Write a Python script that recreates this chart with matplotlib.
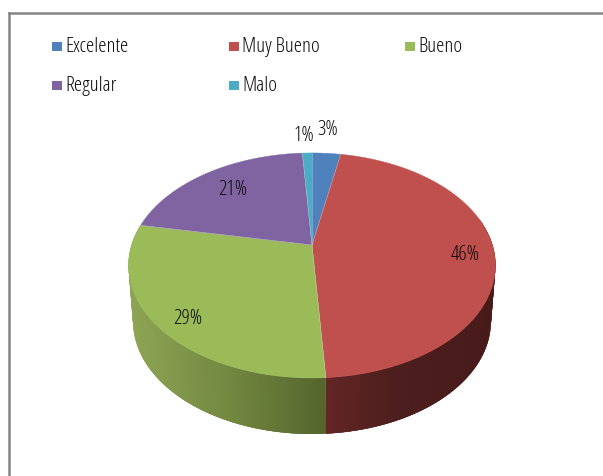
import numpy as np
import matplotlib
matplotlib.use("Agg")
import matplotlib.pyplot as plt
from matplotlib.patches import Rectangle
from matplotlib.collections import PolyCollection

categories = ["Excelente", "Muy Bueno", "Bueno", "Regular", "Malo"]
values = [3, 46, 29, 21, 1]
top_colors = ["#4F81BD", "#C0504D", "#9BBB59", "#8064A2", "#4BACC6"]

font = dict(family="Open Sans", stretch="condensed", fontsize=15)

fig = plt.figure(figsize=(6.03, 4.76), dpi=100)
ax = fig.add_axes([0, 0, 1, 1])
ax.set_xlim(0, 603)
ax.set_ylim(476, 0)
ax.axis("off")

cx, cy = 312.0, 245.0
a, b, k = 180.4, 108.8, 0.182
depth, shrink = 56.0, 0.975


def project(theta):
    """theta: clockwise from 12 o'clock, radians; perspective-projected rim."""
    u, v = np.sin(theta), np.cos(theta)
    d = 1 + k * v
    return a * u / d, -b * v / d


edges = np.concatenate([[0], np.cumsum(values)]) / sum(values) * 2 * np.pi

# side wall, shaded by horizontal position
side_stops = {
    1: [(328, (98, 38, 37)), (400, (76, 30, 29)), (496, (72, 27, 27))],
    2: [(130, (142, 164, 84)), (230, (114, 135, 64)), (328, (84, 100, 45))],
}
for i in (1, 2):
    th = np.linspace(edges[i], edges[i + 1], 300)
    X, Y = project(th)
    xs = [s[0] for s in side_stops[i]]
    rgb = np.array([s[1] for s in side_stops[i]], float)
    polys, cols = [], []
    for j in range(len(th) - 1):
        if Y[j] < -25 and Y[j + 1] < -25:
            continue
        e = min(j + 3, len(th) - 1)
        polys.append([(cx + X[j], cy + Y[j]), (cx + X[e], cy + Y[e]),
                      (cx + X[e] * shrink, cy + Y[e] + depth),
                      (cx + X[j] * shrink, cy + Y[j] + depth)])
        xm = cx + (X[j] + X[j + 1]) / 2
        cols.append([np.interp(xm, xs, rgb[:, c]) / 255 for c in range(3)])
    ax.add_collection(PolyCollection(polys, facecolors=cols, edgecolors="none"))

# top face
for i, col in enumerate(top_colors):
    th = np.linspace(edges[i], edges[i + 1], 200)
    X, Y = project(th)
    ax.fill(np.r_[cx, cx + X], np.r_[cy, cy + Y], color=col, lw=0.3)
    ax.plot([cx, cx + X[0]], [cy, cy + Y[0]], color="#D8DDE8", lw=0.4, alpha=0.6)

# data labels, in category order
label_x = [328, 465, 188, 233, 304]
label_y = [130, 255, 319, 190, 136]
for lx, ly, v in zip(label_x, label_y, values):
    ax.text(lx, ly, f"{v}%", color="#0a0a0a", ha="center", va="center", **font)

# legend
leg_x = [51.5, 229, 405]
leg_y = [46, 85]
for i, (name, col) in enumerate(zip(categories, top_colors)):
    x = leg_x[i % 3]
    y = leg_y[i // 3]
    ax.add_patch(Rectangle((x, y - 4.5), 10, 9, facecolor=col, edgecolor="none"))
    ax.text(x + 13.5, y + 1, name, color="#0a0a0a", ha="left", va="center", **font)

# chart frame: top and left edges only
ax.plot([8.5, 8.5], [476, 13], color="#858585", lw=1.8, solid_capstyle="projecting")
ax.plot([8.5, 603], [13, 13], color="#858585", lw=1.8, solid_capstyle="projecting")

fig.savefig("out.png", dpi=100)
